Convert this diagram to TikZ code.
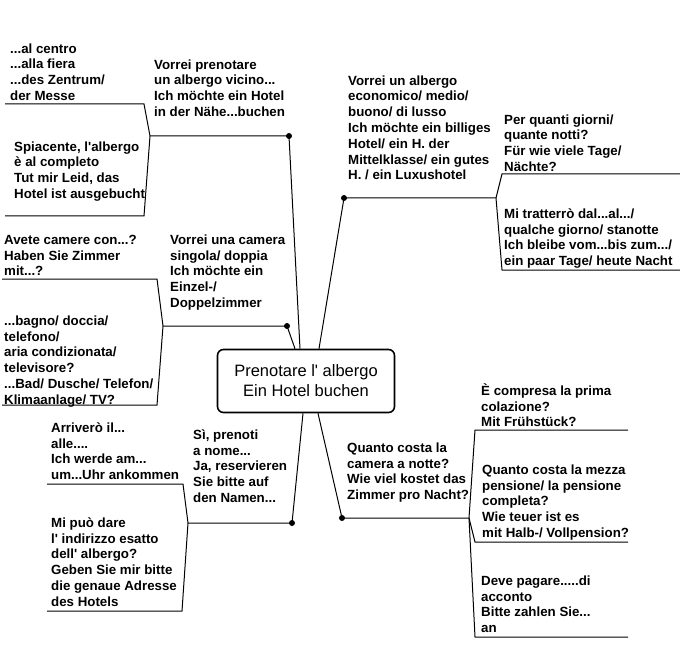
\documentclass[tikz,border=0pt]{standalone}
\usepackage{fontspec}
\setmainfont{Liberation Sans}[Ligatures=TeXOff]
\usetikzlibrary{calc}
\newcommand\tstrut{\rule{0pt}{13pt}}
\begin{document}
\begin{tikzpicture}[x=1pt,y=-1pt,
  txt/.style={anchor=north west,inner sep=0pt,align=left,font=\bfseries\fontsize{13.3}{15.8}\selectfont},
  ln/.style={line width=1pt},
  dot/.style={circle,fill,inner sep=0pt,minimum size=6pt},
  hub/.style={draw,line width=1.6pt,rounded corners=6pt,minimum width=177pt,minimum height=63pt,align=center,inner sep=0pt,font=\fontsize{16.5}{20}\selectfont}]
\useasboundingbox (0,0) rectangle (680,671);

% central node
\node[hub] (c) at (306,381) {Prenotare l' albergo\\Ein Hotel buchen};

% texts
\node[txt] (t1a) at (10,40) {\tstrut...al centro\\...alla fiera\\...des Zentrum/\\der Messe};
\node[txt] (t1) at (154,56) {\tstrut Vorrei prenotare\\un albergo vicino...\\Ich möchte ein Hotel\\in der Nähe...buchen};
\node[txt] (t1b) at (14,138) {\tstrut Spiacente, l'albergo\\è al completo\\Tut mir Leid, das\\Hotel ist ausgebucht};
\node[txt] (t2a) at (4,231) {\tstrut Avete camere con...?\\Haben Sie Zimmer\\mit...?};
\node[txt] (t2) at (170,231) {\tstrut Vorrei una camera\\singola/ doppia\\Ich möchte ein\\Einzel-/\\Doppelzimmer};
\node[txt] (t2b) at (4,312) {\tstrut...bagno/ doccia/\\telefono/\\aria condizionata/\\televisore?\\...Bad/ Dusche/ Telefon/\\Klimaanlage/ TV?};
\node[txt] (t3) at (348,72) {\tstrut Vorrei un albergo\\economico/ medio/\\buono/ di lusso\\Ich möchte ein billiges\\Hotel/ ein H. der\\Mittelklasse/ ein gutes\\H. / ein Luxushotel};
\node[txt] (t3a) at (504,111) {\tstrut Per quanti giorni/\\quante notti?\\Für wie viele Tage/\\Nächte?};
\node[txt] (t3b) at (504,205) {\tstrut Mi tratterrò dal...al.../\\qualche giorno/ stanotte\\Ich bleibe vom...bis zum.../\\ein paar Tage/ heute Nacht};
\node[txt] (t4) at (347,439) {\tstrut Quanto costa la\\camera a notte?\\Wie viel kostet das\\Zimmer pro Nacht?};
\node[txt] (t4a) at (481,382) {\tstrut È compresa la prima\\colazione?\\Mit Frühstück?};
\node[txt] (t4b) at (482,461) {\tstrut Quanto costa la mezza\\pensione/ la pensione\\completa?\\Wie teuer ist es\\mit Halb-/ Vollpension?};
\node[txt] (t4c) at (481,572) {\tstrut Deve pagare.....di\\acconto\\Bitte zahlen Sie...\\an};
\node[txt] (t5) at (193,426) {\tstrut Sì, prenoti\\a nome...\\Ja, reservieren\\Sie bitte auf\\den Namen...};
\node[txt] (t5a) at (51,419) {\tstrut Arriverò il...\\alle....\\Ich werde am...\\um...Uhr ankommen};
\node[txt] (t5b) at (51,514) {\tstrut Mi può dare\\l' indirizzo esatto\\dell' albergo?\\Geben Sie mir bitte\\die genaue Adresse\\des Hotels};

% dots
\node[dot] (d1) at (289,136) {};
\node[dot] (d2) at (287,326) {};
\node[dot] (d3) at (344,198) {};
\node[dot] (d4) at (342,518) {};
\node[dot] (d5) at (292,523) {};

% attachment points on the central box
\coordinate (e1) at ($(c.north)+(-6,0)$);
\coordinate (e2) at ($(c.north)+(-11,0)$);
\coordinate (e3) at ($(c.north)+(13,0)$);
\coordinate (e4) at ($(c.south)+(12,0)$);
\coordinate (e5) at ($(c.south)+(-3,0)$);

% junctions
\coordinate (j1) at (150,136);
\coordinate (j2) at (163,326);
\coordinate (j3) at (496,198);
\coordinate (j4) at (469,518);
\coordinate (j5) at (188,523);

% sub-branch line starts and ends
\coordinate (a1) at (144,104); \coordinate (a1e) at (5,104);
\coordinate (b1) at (144,216); \coordinate (b1e) at (5,216);
\coordinate (a2) at (157,279); \coordinate (a2e) at (2,279);
\coordinate (b2) at (157,405); \coordinate (b2e) at (2,405);
\coordinate (a3) at (502,174); \coordinate (a3e) at (680,174);
\coordinate (b3) at (502,270); \coordinate (b3e) at (680,270);
\coordinate (a4) at (475,430); \coordinate (a4e) at (628,430);
\coordinate (b4) at (475,542); \coordinate (b4e) at (628,542);
\coordinate (c4) at (475,637); \coordinate (c4e) at (628,637);
\coordinate (a5) at (183,484); \coordinate (a5e) at (47,484);
\coordinate (b5) at (182,611); \coordinate (b5e) at (47,611);

% main branches
\draw[ln] (e1) -- (d1.center) -- (j1);
\draw[ln] (e2) -- (d2.center) -- (j2);
\draw[ln] (e3) -- (d3.center) -- (j3);
\draw[ln] (e4) -- (d4.center) -- (j4);
\draw[ln] (e5) -- (d5.center) -- (j5);

% sub-branches
\draw[ln] (a1e) -- (a1) -- (j1) -- (b1) -- (b1e);
\draw[ln] (a2e) -- (a2) -- (j2) -- (b2) -- (b2e);
\draw[ln] (a3e) -- (a3) -- (j3) -- (b3) -- (b3e);
\draw[ln] (a4e) -- (a4) -- (j4) -- (b4) -- (b4e);
\draw[ln] (j4) -- (c4) -- (c4e);
\draw[ln] (a5e) -- (a5) -- (j5) -- (b5) -- (b5e);
\end{tikzpicture}
\end{document}
